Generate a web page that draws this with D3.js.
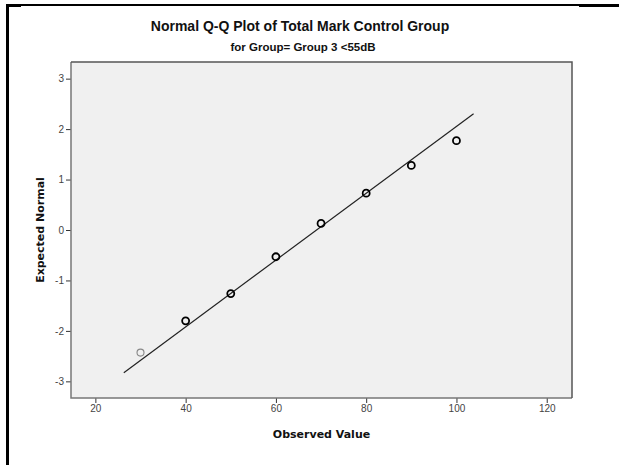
<!DOCTYPE html>
<html>
<head>
<meta charset="utf-8">
<script src="https://cdn.jsdelivr.net/npm/d3@7"></script>
<style>
  html, body { margin: 0; padding: 0; background: #fff; }
  svg { display: block; }
</style>
</head>
<body>
<svg id="chart" width="619" height="465"></svg>
<script>
// Observed values and their expected normal quantiles
const observed = [30, 40, 50, 60, 70, 80, 90, 100];
const expectedNormal = [-2.43, -1.80, -1.26, -0.53, 0.13, 0.73, 1.28, 1.77];
// single-case points are drawn lighter than stacked ones
const caseCounts = [1, 2, 2, 2, 2, 2, 2, 2];

// Reference line: normal with this mean and SD, drawn across this observed range
const lineMean = 69.0;
const lineSD = 15.1;
const lineRange = [26.3, 103.8];

const xTicks = [20, 40, 60, 80, 100, 120];
const yTicks = [-3, -2, -1, 0, 1, 2, 3];
const xDomain = [14.6, 125.6];
const yDomain = [-3.33, 3.33];

const titleText = "Normal Q-Q Plot of Total Mark Control Group";
const subtitleText = "for Group= Group 3 <55dB";
const xLabel = "Observed Value";
const yLabel = "Expected Normal";

const svg = d3.select("#chart");
const plot = { left: 71, right: 572, top: 62, bottom: 398 };

const x = d3.scaleLinear().domain(xDomain).range([plot.left, plot.right]);
const y = d3.scaleLinear().domain(yDomain).range([plot.bottom, plot.top]);

// Frame lines around the output panel
svg.append("rect").attr("x", 6).attr("y", 4).attr("width", 3).attr("height", 461).attr("fill", "#000");
svg.append("rect").attr("x", 6).attr("y", 4).attr("width", 574).attr("height", 2).attr("fill", "#000");
svg.append("rect").attr("x", 8).attr("y", 4).attr("width", 13).attr("height", 3).attr("fill", "#000");
svg.append("rect").attr("x", 579).attr("y", 4).attr("width", 40).attr("height", 3).attr("fill", "#000");

// Titles
svg.append("text")
  .attr("x", 300).attr("y", 31)
  .attr("text-anchor", "middle")
  .style("font-family", "Liberation Sans, Arial, sans-serif")
  .style("font-weight", "bold").style("font-size", "14px")
  .attr("fill", "#111")
  .text(titleText);

svg.append("text")
  .attr("x", 303).attr("y", 51)
  .attr("text-anchor", "middle")
  .style("font-family", "Liberation Sans, Arial, sans-serif")
  .style("font-weight", "bold").style("font-size", "11.5px")
  .attr("fill", "#111")
  .text(subtitleText);

// Plot background
svg.append("rect")
  .attr("x", plot.left).attr("y", plot.top)
  .attr("width", plot.right - plot.left).attr("height", plot.bottom - plot.top)
  .attr("fill", "#f0f0f0");

// Axes (plain hyphen for negatives)
const fmt = d => String(d);
const axisFont = g => g.selectAll("text")
  .style("font-family", "Liberation Sans, Arial, sans-serif")
  .style("font-size", "10px").attr("fill", "#444");

const xAxis = svg.append("g")
  .attr("transform", `translate(0,${plot.bottom})`)
  .call(d3.axisBottom(x).tickValues(xTicks).tickFormat(fmt).tickSize(5).tickPadding(2));
xAxis.select(".domain").remove();
xAxis.selectAll("line").attr("stroke", "#333");
axisFont(xAxis);

const yAxis = svg.append("g")
  .attr("transform", `translate(${plot.left},0)`)
  .call(d3.axisLeft(y).tickValues(yTicks).tickFormat(fmt).tickSize(5).tickPadding(2));
yAxis.select(".domain").remove();
yAxis.selectAll("line").attr("stroke", "#333");
axisFont(yAxis);

// Plot border
svg.append("path")
  .attr("d", `M${plot.left},${plot.top}V${plot.bottom}H${plot.right}`)
  .attr("fill", "none").attr("stroke", "#777").attr("stroke-width", 1.5);
svg.append("path")
  .attr("d", `M${plot.left},${plot.top}H${plot.right}V${plot.bottom}`)
  .attr("fill", "none").attr("stroke", "#555").attr("stroke-width", 1.5);

// Axis titles
svg.append("text")
  .attr("x", (plot.left + plot.right) / 2).attr("y", 438)
  .attr("text-anchor", "middle")
  .style("font-family", "DejaVu Sans, Verdana, sans-serif")
  .style("font-weight", "bold").style("font-size", "11px")
  .attr("fill", "#111")
  .text(xLabel);

svg.append("text")
  .attr("transform", `translate(44,${(plot.top + plot.bottom) / 2}) rotate(-90)`)
  .attr("text-anchor", "middle")
  .style("font-family", "DejaVu Sans, Verdana, sans-serif")
  .style("font-weight", "bold").style("font-size", "11px")
  .attr("fill", "#111")
  .text(yLabel);

// Reference line
const refLine = lineRange.map(v => ({ x: v, y: (v - lineMean) / lineSD }));
svg.append("path")
  .datum(refLine)
  .attr("d", d3.line().x(d => x(d.x)).y(d => y(d.y)))
  .attr("fill", "none").attr("stroke", "#222").attr("stroke-width", 1.2);

// Points
const pts = observed.map((v, i) => ({ x: v, y: expectedNormal[i], n: caseCounts[i] }));
svg.append("g").selectAll("circle")
  .data(pts)
  .join("circle")
  .attr("cx", d => x(d.x)).attr("cy", d => y(d.y))
  .attr("r", 3.5)
  .attr("fill", "none")
  .attr("stroke", d => d.n > 1 ? "#000" : "#888")
  .attr("stroke-width", d => d.n > 1 ? 1.8 : 1.1);
</script>
</body>
</html>
